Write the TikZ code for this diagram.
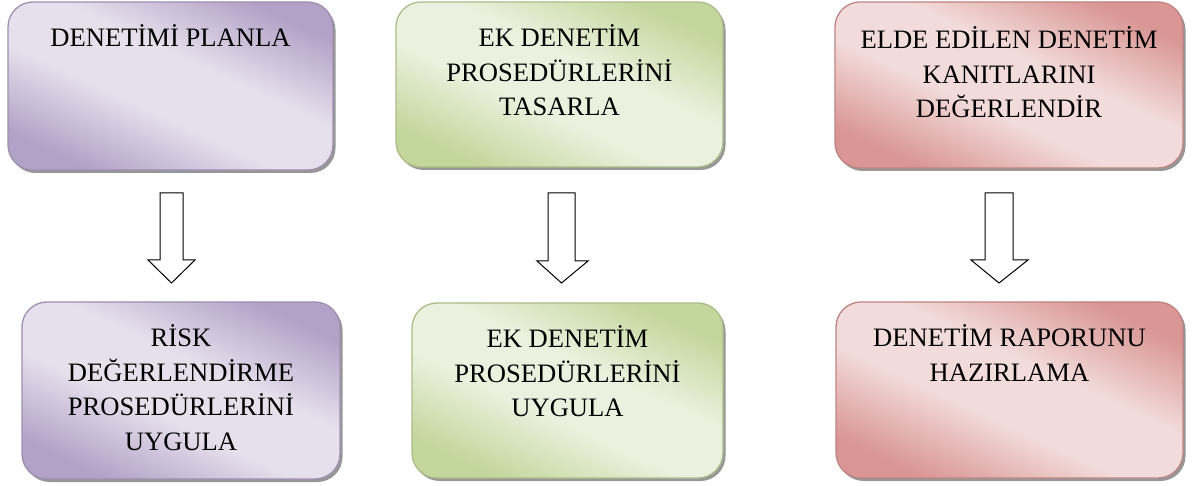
\documentclass[tikz,border=0pt]{standalone}
\usepackage{fontspec}
\setmainfont{Liberation Serif}
\usetikzlibrary{shadows}
\definecolor{pD}{HTML}{B3A2C7}
\definecolor{pL}{HTML}{E6E0EC}
\definecolor{gD}{HTML}{C3D69B}
\definecolor{gL}{HTML}{EBF1DE}
\definecolor{rD}{HTML}{D99694}
\definecolor{rL}{HTML}{F2DCDB}
\pgfdeclareverticalshading{purpsh}{100bp}{color(0bp)=(pD); color(25bp)=(pD); color(43bp)=(pL); color(57bp)=(pL); color(75bp)=(pD); color(100bp)=(pD)}
\pgfdeclareverticalshading{greensh}{100bp}{color(0bp)=(gD); color(25bp)=(gD); color(43bp)=(gL); color(57bp)=(gL); color(75bp)=(gD); color(100bp)=(gD)}
\pgfdeclareverticalshading{redsh}{100bp}{color(0bp)=(rD); color(25bp)=(rD); color(43bp)=(rL); color(57bp)=(rL); color(75bp)=(rD); color(100bp)=(rD)}
\tikzset{
  box/.style={rectangle, rounded corners=25pt, line width=1.3pt, inner sep=0pt,
    drop shadow={shadow xshift=2.5pt, shadow yshift=-3pt, fill=black!45, opacity=0.9},
    shading angle=-25},
  pbox/.style={box, draw=pD!88!black, shading=purpsh},
  gbox/.style={box, draw=gD!88!black, shading=greensh},
  rbox/.style={box, draw=rD!88!black, shading=redsh},
  txt/.style={anchor=north, align=center, inner sep=0pt, yshift=-20pt,
    font=\fontsize{26.6}{34.5}\selectfont},
  blockarrow/.style={draw=black, fill=white, line width=1pt, line join=miter}
}
\newcommand{\firstline}{\rule{0pt}{25pt}}
\begin{document}
\begin{tikzpicture}[x=1pt, y=-1pt]
\useasboundingbox (0,0) rectangle (1197,486);
% top row
\node[pbox, minimum width=325pt, minimum height=168pt] (b1) at (170.5,86) {};
\node[gbox, minimum width=327pt, minimum height=165pt] (b2) at (559.5,84.5) {};
\node[rbox, minimum width=348pt, minimum height=166pt] (b3) at (1009,85) {};
% bottom row
\node[pbox, minimum width=318pt, minimum height=177pt] (b4) at (181,390.5) {};
\node[gbox, minimum width=311pt, minimum height=175pt] (b5) at (567.5,390.5) {};
\node[rbox, minimum width=347pt, minimum height=176pt] (b6) at (1009.5,390) {};
% texts
\node[txt] (t1) at (b1.north) {\firstline DENETİMİ PLANLA};
\node[txt] (t2) at (b2.north) {\firstline EK DENETİM\\PROSEDÜRLERİNİ\\TASARLA};
\node[txt, yshift=-2pt] (t3) at (b3.north) {\firstline ELDE EDİLEN DENETİM\\KANITLARINI\\DEĞERLENDİR};
\node[txt] (t4) at (b4.north) {\firstline RİSK\\DEĞERLENDİRME\\PROSEDÜRLERİNİ\\UYGULA};
\node[txt] (t5) at (b5.north) {\firstline EK DENETİM\\PROSEDÜRLERİNİ\\UYGULA};
\node[txt] (t6) at (b6.north) {\firstline DENETİM RAPORUNU\\HAZIRLAMA};
% block arrows
\draw[blockarrow] (160,193) -- (183,193) -- (183,260) -- (195,260) -- (171.5,283) -- (148,260) -- (160,260) -- cycle;
\draw[blockarrow] (548,193) -- (575,193) -- (575,261) -- (588,261) -- (561.5,283) -- (537,261) -- (548,261) -- cycle;
\draw[blockarrow] (985,193) -- (1013,193) -- (1013,260) -- (1028,260) -- (999,283) -- (971,260) -- (985,260) -- cycle;
\end{tikzpicture}
\end{document}
